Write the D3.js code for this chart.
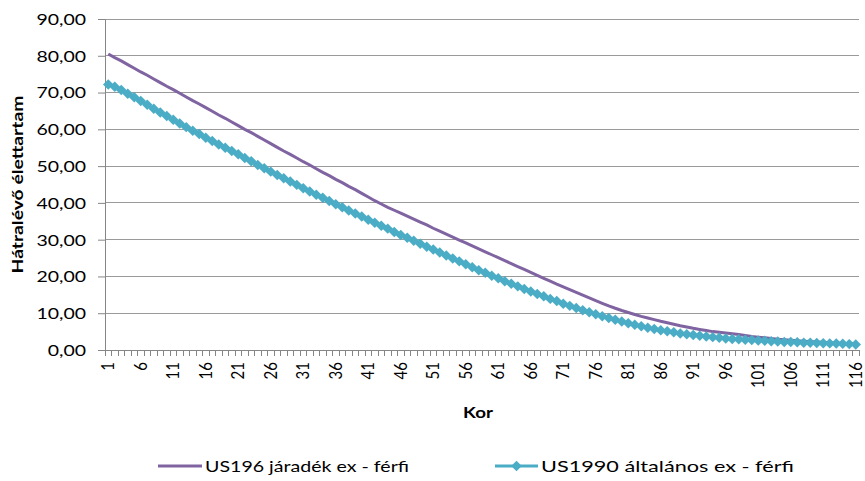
<!DOCTYPE html>
<html>
<head>
<meta charset="utf-8">
<script src="https://cdn.jsdelivr.net/npm/d3@7"></script>
<style>
  body { margin: 0; background: #fff; }
  text { font-family: Lato, "Open Sans", sans-serif; fill: #000; }
</style>
</head>
<body>
<script>
var ages = d3.range(1, 117);
var yTicks = [0, 10, 20, 30, 40, 50, 60, 70, 80, 90];

// US196 járadék ex - férfi
var annuityMale = [
  80.5, 79.5, 78.6, 77.6, 76.6, 75.6, 74.7, 73.7, 72.7, 71.7,
  70.8, 69.8, 68.8, 67.8, 66.9, 65.9, 64.9, 63.9, 63.0, 62.0,
  61.0, 60.0, 59.1, 58.1, 57.1, 56.1, 55.1, 54.1, 53.2, 52.2,
  51.2, 50.3, 49.3, 48.3, 47.4, 46.4, 45.5, 44.5, 43.6, 42.6,
  41.6, 40.6, 39.7, 38.8, 38.0, 37.2, 36.4, 35.6, 34.8, 34.0,
  33.1, 32.3, 31.5, 30.7, 29.9, 29.1, 28.3, 27.5, 26.7, 25.9,
  25.1, 24.3, 23.5, 22.7, 21.9, 21.1, 20.3, 19.5, 18.7, 17.9,
  17.15, 16.4, 15.65, 14.9, 14.15, 13.4, 12.7, 12.0, 11.35, 10.75,
  10.2, 9.65, 9.15, 8.7, 8.25, 7.8, 7.4, 7.0, 6.6, 6.25,
  5.9, 5.6, 5.3, 5.0, 4.8, 4.6, 4.4, 4.2, 3.95, 3.7,
  3.5, 3.3, 3.1, 2.95, 2.8, 2.65, 2.5, 2.4, 2.3, 2.2,
  2.1, 2.0, 1.9, 1.8, 1.7, 1.6
];

// US1990 általános ex - férfi
var generalMale = [
  72.2, 71.6, 70.7, 69.7, 68.7, 67.7, 66.7, 65.6, 64.6, 63.6,
  62.6, 61.6, 60.6, 59.6, 58.7, 57.7, 56.8, 55.9, 55.0, 54.1,
  53.2, 52.2, 51.3, 50.3, 49.4, 48.5, 47.6, 46.7, 45.8, 44.9,
  44.0, 43.1, 42.2, 41.4, 40.5, 39.6, 38.8, 37.9, 37.1, 36.3,
  35.4, 34.6, 33.8, 33.0, 32.1, 31.3, 30.5, 29.7, 28.9, 28.1,
  27.3, 26.5, 25.7, 24.9, 24.1, 23.3, 22.5, 21.7, 21.0, 20.2,
  19.5, 18.7, 18.0, 17.3, 16.6, 15.9, 15.2, 14.6, 13.9, 13.3,
  12.6, 12.0, 11.4, 10.8, 10.25, 9.7, 9.2, 8.7, 8.2, 7.75,
  7.3, 6.85, 6.45, 6.05, 5.7, 5.4, 5.1, 4.8, 4.5, 4.3,
  4.1, 3.9, 3.7, 3.5, 3.3, 3.15, 3.0, 2.9, 2.8, 2.7,
  2.6, 2.5, 2.4, 2.3, 2.2, 2.15, 2.1, 2.0, 1.95, 1.9,
  1.85, 1.8, 1.75, 1.7, 1.6, 1.5
];

var seriesNames = ['US196 járadék ex - férfi', 'US1990 általános ex - férfi'];

var W = 865, H = 481;
var margin = {top: 19, right: 6, bottom: 131, left: 105};
var purple = '#8064a2', blue = '#4bacc6', gridCol = '#9a9a9a', axisCol = '#868686';

var svg = d3.select('body').append('svg')
  .attr('width', W)
  .attr('height', H);

var x = d3.scaleBand()
  .domain(ages)
  .range([margin.left, W - margin.right])
  .paddingInner(0).paddingOuter(0);

var y = d3.scaleLinear()
  .domain([0, 90])
  .range([H - margin.bottom, margin.top]);

var cx = function(d) { return x(d) + x.bandwidth() / 2; };
var fmt = function(v) { return d3.format('.2f')(v).replace('.', ','); };

/* gridlines */
svg.append('g')
  .selectAll('line')
  .data(yTicks.slice(1))
  .enter()
  .append('line')
  .attr('x1', margin.left)
  .attr('x2', W - margin.right)
  .attr('y1', function(d) { return y(d); })
  .attr('y2', function(d) { return y(d); })
  .style('stroke', gridCol)
  .style('stroke-width', 1)
  .attr('shape-rendering', 'crispEdges');

/* y axis */
var yAxis = svg.append('g')
  .attr('transform', 'translate(' + margin.left + ',0)')
  .call(d3.axisLeft(y).tickValues(yTicks).tickFormat(fmt).tickSize(7).tickSizeOuter(0));
yAxis.select('.domain').style('stroke', axisCol);
yAxis.selectAll('.tick line').style('stroke', axisCol);
yAxis.selectAll('.tick text')
  .attr('x', null)
  .attr('dy', '0.36em')
  .attr('transform', 'translate(-19,0) scale(1.3,1)')
  .style('font-size', '15px');

/* x axis: ticks between categories */
var bounds = ages.map(function(d) { return x(d); }).concat([W - margin.right]);
svg.append('line')
  .attr('x1', margin.left).attr('x2', W - margin.right)
  .attr('y1', y(0)).attr('y2', y(0))
  .style('stroke', axisCol)
  .attr('shape-rendering', 'crispEdges');
svg.append('g')
  .selectAll('line')
  .data(bounds)
  .enter()
  .append('line')
  .attr('x1', function(d) { return d; })
  .attr('x2', function(d) { return d; })
  .attr('y1', y(0))
  .attr('y2', y(0) + 6)
  .style('stroke', axisCol)
  .attr('shape-rendering', 'crispEdges');

svg.append('g')
  .selectAll('text')
  .data(ages.filter(function(d) { return (d - 1) % 5 === 0; }))
  .enter()
  .append('text')
  .attr('transform', function(d) { return 'translate(' + cx(d) + ',' + (y(0) + 12) + ') rotate(-90) scale(1,1.1)'; })
  .attr('text-anchor', 'end')
  .attr('dy', '0.36em')
  .style('font-size', '15px')
  .text(function(d) { return d; });

/* axis titles */
svg.append('text')
  .attr('transform', 'translate(478,418) scale(1.25,1)')
  .attr('text-anchor', 'middle')
  .style('font-size', '15px')
  .style('font-weight', 'bold')
  .text('Kor');

svg.append('text')
  .attr('transform', 'translate(23,' + ((y(0) + y(90)) / 2) + ') rotate(-90)')
  .attr('text-anchor', 'middle')
  .attr('textLength', 178)
  .attr('lengthAdjust', 'spacingAndGlyphs')
  .style('font-size', '15px')
  .style('font-weight', 'bold')
  .text('Hátralévő élettartam');

/* series */
var line = d3.line()
  .x(function(d, i) { return cx(ages[i]); })
  .y(function(d) { return y(d); });

svg.append('path')
  .datum(annuityMale)
  .attr('d', line)
  .style('fill', 'none')
  .style('stroke', purple)
  .style('stroke-width', 3);

svg.append('path')
  .datum(generalMale)
  .attr('d', line)
  .style('fill', 'none')
  .style('stroke', blue)
  .style('stroke-width', 3);

var diamond = d3.symbol().type(d3.symbolDiamond2).size(70);
svg.append('g')
  .selectAll('path')
  .data(generalMale)
  .enter()
  .append('path')
  .attr('d', diamond)
  .attr('transform', function(d, i) { return 'translate(' + cx(ages[i]) + ',' + y(d) + ')'; })
  .style('fill', blue);

/* legend */
var legY = 466;
var leg = [
  {x: 158, w: 44, len: 204, col: purple, marker: false},
  {x: 495, w: 43, len: 253, col: blue, marker: true}
];
leg.forEach(function(l, i) {
  svg.append('line')
    .attr('x1', l.x).attr('x2', l.x + l.w)
    .attr('y1', legY).attr('y2', legY)
    .style('stroke', l.col)
    .style('stroke-width', 3);
  if (l.marker) {
    svg.append('path')
      .attr('d', diamond)
      .attr('transform', 'translate(' + (l.x + l.w / 2) + ',' + legY + ')')
      .style('fill', l.col);
  }
  svg.append('text')
    .attr('x', l.x + l.w + 3)
    .attr('y', legY)
    .attr('dy', '0.36em')
    .attr('textLength', l.len)
    .attr('lengthAdjust', 'spacingAndGlyphs')
    .style('font-size', '16px')
    .text(seriesNames[i]);
});
</script>
</body>
</html>
